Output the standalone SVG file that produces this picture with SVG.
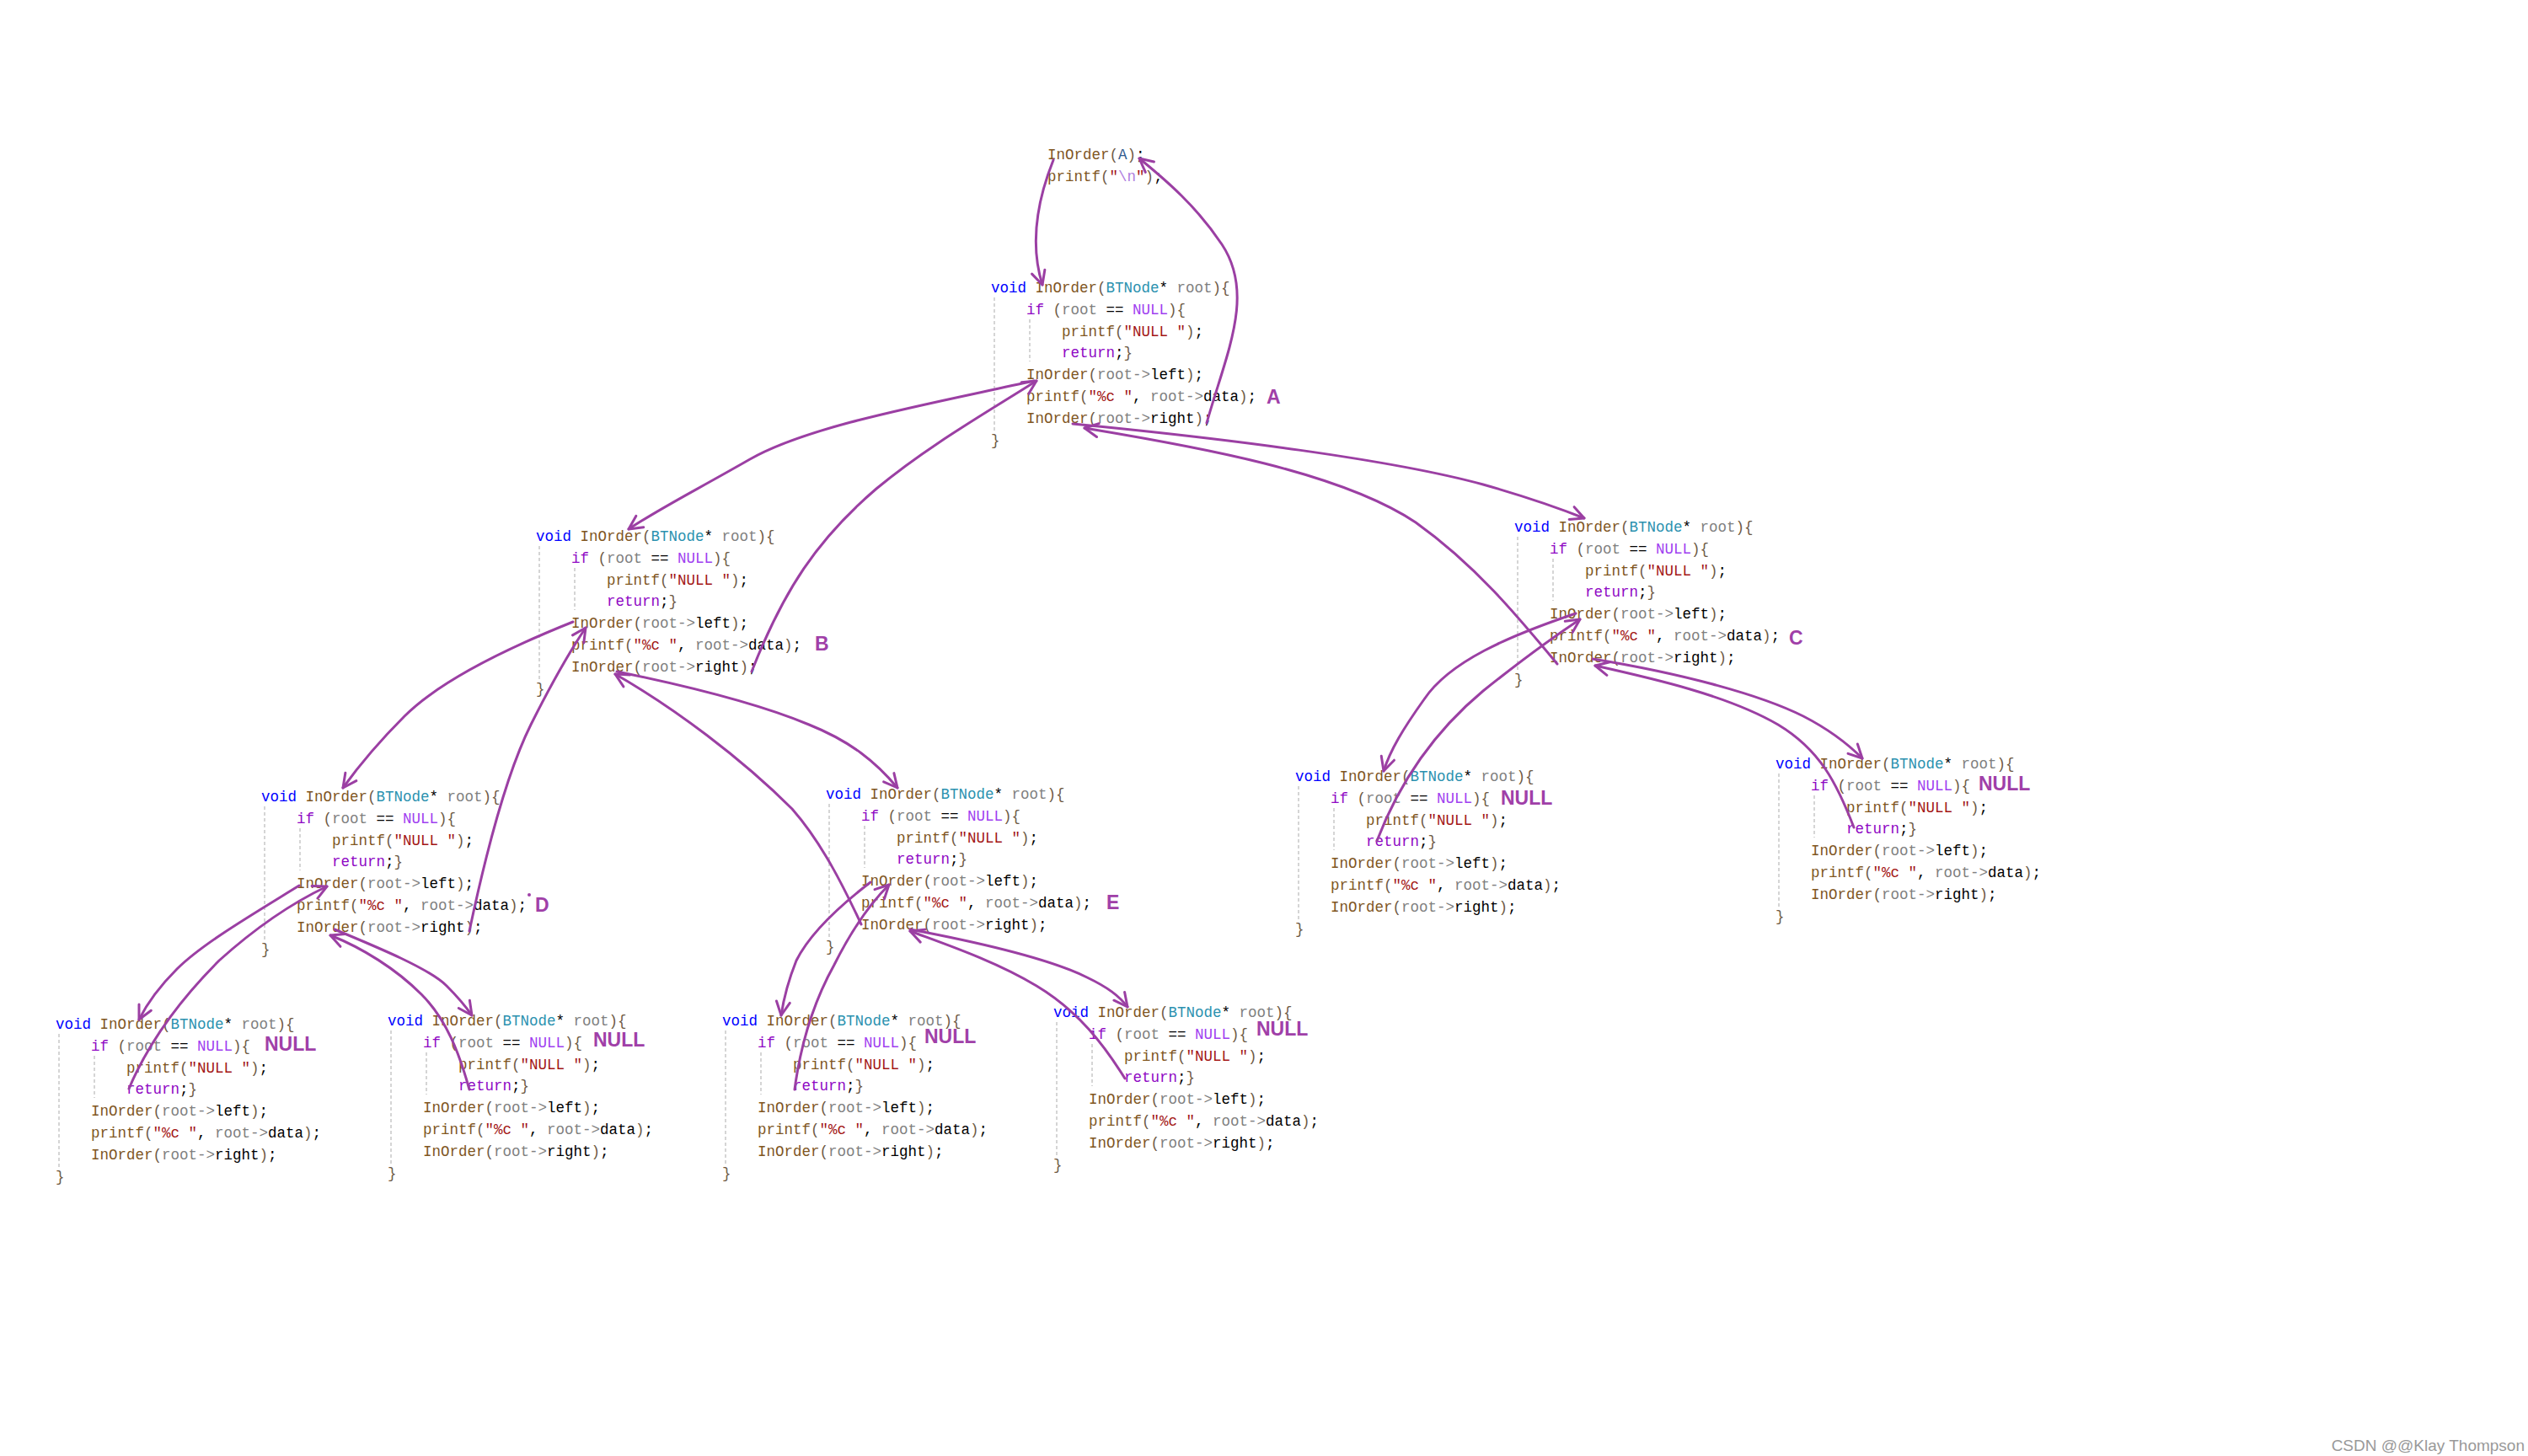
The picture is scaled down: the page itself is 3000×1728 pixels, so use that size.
<svg xmlns="http://www.w3.org/2000/svg" width="3000" height="1728" viewBox="0 0 3000 1728">
<style>
.c{font-family:"Liberation Mono","DejaVu Sans Mono",monospace;font-size:17.5px;fill:#000}
.k{fill:#0000ff}.f{fill:#80561f}.p{fill:#6e5a45}.t{fill:#2b91af}.v{fill:#808080}
.cf{fill:#8f08c4}.m{fill:#a040f0}.s{fill:#a31515}.e{fill:#b080e0}.a{fill:#2f5a90}
.g{stroke:#c8c8c8;stroke-width:1.5;stroke-dasharray:4 3;fill:none}
.lbl{font-family:"Liberation Sans",Arial,sans-serif;font-weight:bold;font-size:23px;fill:#a040a8}
.arr{fill:none;stroke:#9b3fa3;stroke-width:3;stroke-linecap:round;marker-end:url(#ah)}
.wm{font-family:"Liberation Sans",Arial,sans-serif;font-size:19px;fill:#999}
</style>
<defs>
<marker id="ah" markerUnits="userSpaceOnUse" viewBox="0 0 20 20" markerWidth="20" markerHeight="20" refX="18" refY="10" orient="auto">
<path d="M2,2 L18,10 L2,18" fill="none" stroke="#9b3fa3" stroke-width="3" stroke-linecap="round" stroke-linejoin="round"/>
</marker>
</defs>
<rect width="3000" height="1728" fill="#fff"/>

<g id="call">
<text class="c" x="1243" y="189"><tspan class="f">InOrder</tspan><tspan class="p">(</tspan><tspan class="a">A</tspan><tspan class="p">)</tspan>;</text>
<text class="c" x="1243" y="215"><tspan class="f">printf</tspan><tspan class="p">(</tspan><tspan class="s">"</tspan><tspan class="e">\n</tspan><tspan class="s">"</tspan><tspan class="p">)</tspan>;</text>
</g>

<g id="nodeA">
<g transform="translate(1176,347)">
<line class="g" x1="4" y1="6" x2="4" y2="165"/><line class="g" x1="46" y1="32" x2="46" y2="82"/>
<text class="c" x="0" y="0"><tspan class="k">void</tspan> <tspan class="f">InOrder</tspan><tspan class="p">(</tspan><tspan class="t">BTNode</tspan>* <tspan class="v">root</tspan><tspan class="p">){</tspan></text>
<text class="c" x="42" y="25.8"><tspan class="cf">if</tspan> <tspan class="p">(</tspan><tspan class="v">root</tspan> == <tspan class="m">NULL</tspan><tspan class="p">){</tspan></text>
<text class="c" x="84" y="51.6"><tspan class="f">printf</tspan><tspan class="p">(</tspan><tspan class="s">"NULL "</tspan><tspan class="p">)</tspan>;</text>
<text class="c" x="84" y="77.4"><tspan class="cf">return</tspan>;<tspan class="p">}</tspan></text>
<text class="c" x="42" y="103.2"><tspan class="f">InOrder</tspan><tspan class="p">(</tspan><tspan class="v">root-&gt;</tspan>left<tspan class="p">)</tspan>;</text>
<text class="c" x="42" y="129"><tspan class="f">printf</tspan><tspan class="p">(</tspan><tspan class="s">"%c "</tspan>, <tspan class="v">root-&gt;</tspan>data<tspan class="p">)</tspan>;</text>
<text class="c" x="42" y="154.8"><tspan class="f">InOrder</tspan><tspan class="p">(</tspan><tspan class="v">root-&gt;</tspan>right<tspan class="p">)</tspan>;</text>
<text class="c" x="0" y="180.6"><tspan class="p">}</tspan></text>
</g>
<text class="lbl" x="1503" y="479">A</text>
</g>

<g id="nodeB">
<g transform="translate(636,642)">
<line class="g" x1="4" y1="6" x2="4" y2="165"/><line class="g" x1="46" y1="32" x2="46" y2="82"/>
<text class="c" x="0" y="0"><tspan class="k">void</tspan> <tspan class="f">InOrder</tspan><tspan class="p">(</tspan><tspan class="t">BTNode</tspan>* <tspan class="v">root</tspan><tspan class="p">){</tspan></text>
<text class="c" x="42" y="25.8"><tspan class="cf">if</tspan> <tspan class="p">(</tspan><tspan class="v">root</tspan> == <tspan class="m">NULL</tspan><tspan class="p">){</tspan></text>
<text class="c" x="84" y="51.6"><tspan class="f">printf</tspan><tspan class="p">(</tspan><tspan class="s">"NULL "</tspan><tspan class="p">)</tspan>;</text>
<text class="c" x="84" y="77.4"><tspan class="cf">return</tspan>;<tspan class="p">}</tspan></text>
<text class="c" x="42" y="103.2"><tspan class="f">InOrder</tspan><tspan class="p">(</tspan><tspan class="v">root-&gt;</tspan>left<tspan class="p">)</tspan>;</text>
<text class="c" x="42" y="129"><tspan class="f">printf</tspan><tspan class="p">(</tspan><tspan class="s">"%c "</tspan>, <tspan class="v">root-&gt;</tspan>data<tspan class="p">)</tspan>;</text>
<text class="c" x="42" y="154.8"><tspan class="f">InOrder</tspan><tspan class="p">(</tspan><tspan class="v">root-&gt;</tspan>right<tspan class="p">)</tspan>;</text>
<text class="c" x="0" y="180.6"><tspan class="p">}</tspan></text>
</g>
<text class="lbl" x="967" y="772">B</text>
</g>

<g id="nodeC">
<g transform="translate(1797,631)">
<line class="g" x1="4" y1="6" x2="4" y2="165"/><line class="g" x1="46" y1="32" x2="46" y2="82"/>
<text class="c" x="0" y="0"><tspan class="k">void</tspan> <tspan class="f">InOrder</tspan><tspan class="p">(</tspan><tspan class="t">BTNode</tspan>* <tspan class="v">root</tspan><tspan class="p">){</tspan></text>
<text class="c" x="42" y="25.8"><tspan class="cf">if</tspan> <tspan class="p">(</tspan><tspan class="v">root</tspan> == <tspan class="m">NULL</tspan><tspan class="p">){</tspan></text>
<text class="c" x="84" y="51.6"><tspan class="f">printf</tspan><tspan class="p">(</tspan><tspan class="s">"NULL "</tspan><tspan class="p">)</tspan>;</text>
<text class="c" x="84" y="77.4"><tspan class="cf">return</tspan>;<tspan class="p">}</tspan></text>
<text class="c" x="42" y="103.2"><tspan class="f">InOrder</tspan><tspan class="p">(</tspan><tspan class="v">root-&gt;</tspan>left<tspan class="p">)</tspan>;</text>
<text class="c" x="42" y="129"><tspan class="f">printf</tspan><tspan class="p">(</tspan><tspan class="s">"%c "</tspan>, <tspan class="v">root-&gt;</tspan>data<tspan class="p">)</tspan>;</text>
<text class="c" x="42" y="154.8"><tspan class="f">InOrder</tspan><tspan class="p">(</tspan><tspan class="v">root-&gt;</tspan>right<tspan class="p">)</tspan>;</text>
<text class="c" x="0" y="180.6"><tspan class="p">}</tspan></text>
</g>
<text class="lbl" x="2123" y="765">C</text>
</g>

<g id="nodeD">
<g transform="translate(310,951)">
<line class="g" x1="4" y1="6" x2="4" y2="165"/><line class="g" x1="46" y1="32" x2="46" y2="82"/>
<text class="c" x="0" y="0"><tspan class="k">void</tspan> <tspan class="f">InOrder</tspan><tspan class="p">(</tspan><tspan class="t">BTNode</tspan>* <tspan class="v">root</tspan><tspan class="p">){</tspan></text>
<text class="c" x="42" y="25.8"><tspan class="cf">if</tspan> <tspan class="p">(</tspan><tspan class="v">root</tspan> == <tspan class="m">NULL</tspan><tspan class="p">){</tspan></text>
<text class="c" x="84" y="51.6"><tspan class="f">printf</tspan><tspan class="p">(</tspan><tspan class="s">"NULL "</tspan><tspan class="p">)</tspan>;</text>
<text class="c" x="84" y="77.4"><tspan class="cf">return</tspan>;<tspan class="p">}</tspan></text>
<text class="c" x="42" y="103.2"><tspan class="f">InOrder</tspan><tspan class="p">(</tspan><tspan class="v">root-&gt;</tspan>left<tspan class="p">)</tspan>;</text>
<text class="c" x="42" y="129"><tspan class="f">printf</tspan><tspan class="p">(</tspan><tspan class="s">"%c "</tspan>, <tspan class="v">root-&gt;</tspan>data<tspan class="p">)</tspan>;</text>
<text class="c" x="42" y="154.8"><tspan class="f">InOrder</tspan><tspan class="p">(</tspan><tspan class="v">root-&gt;</tspan>right<tspan class="p">)</tspan>;</text>
<text class="c" x="0" y="180.6"><tspan class="p">}</tspan></text>
</g>
<circle cx="628" cy="1062" r="2" fill="#a040a8"/>
<text class="lbl" x="635" y="1082">D</text>
</g>

<g id="nodeE">
<g transform="translate(980,948)">
<line class="g" x1="4" y1="6" x2="4" y2="165"/><line class="g" x1="46" y1="32" x2="46" y2="82"/>
<text class="c" x="0" y="0"><tspan class="k">void</tspan> <tspan class="f">InOrder</tspan><tspan class="p">(</tspan><tspan class="t">BTNode</tspan>* <tspan class="v">root</tspan><tspan class="p">){</tspan></text>
<text class="c" x="42" y="25.8"><tspan class="cf">if</tspan> <tspan class="p">(</tspan><tspan class="v">root</tspan> == <tspan class="m">NULL</tspan><tspan class="p">){</tspan></text>
<text class="c" x="84" y="51.6"><tspan class="f">printf</tspan><tspan class="p">(</tspan><tspan class="s">"NULL "</tspan><tspan class="p">)</tspan>;</text>
<text class="c" x="84" y="77.4"><tspan class="cf">return</tspan>;<tspan class="p">}</tspan></text>
<text class="c" x="42" y="103.2"><tspan class="f">InOrder</tspan><tspan class="p">(</tspan><tspan class="v">root-&gt;</tspan>left<tspan class="p">)</tspan>;</text>
<text class="c" x="42" y="129"><tspan class="f">printf</tspan><tspan class="p">(</tspan><tspan class="s">"%c "</tspan>, <tspan class="v">root-&gt;</tspan>data<tspan class="p">)</tspan>;</text>
<text class="c" x="42" y="154.8"><tspan class="f">InOrder</tspan><tspan class="p">(</tspan><tspan class="v">root-&gt;</tspan>right<tspan class="p">)</tspan>;</text>
<text class="c" x="0" y="180.6"><tspan class="p">}</tspan></text>
</g>
<text class="lbl" x="1313" y="1079">E</text>
</g>

<g id="nullCL">
<g transform="translate(1537,927)">
<line class="g" x1="4" y1="6" x2="4" y2="165"/><line class="g" x1="46" y1="32" x2="46" y2="82"/>
<text class="c" x="0" y="0"><tspan class="k">void</tspan> <tspan class="f">InOrder</tspan><tspan class="p">(</tspan><tspan class="t">BTNode</tspan>* <tspan class="v">root</tspan><tspan class="p">){</tspan></text>
<text class="c" x="42" y="25.8"><tspan class="cf">if</tspan> <tspan class="p">(</tspan><tspan class="v">root</tspan> == <tspan class="m">NULL</tspan><tspan class="p">){</tspan></text>
<text class="c" x="84" y="51.6"><tspan class="f">printf</tspan><tspan class="p">(</tspan><tspan class="s">"NULL "</tspan><tspan class="p">)</tspan>;</text>
<text class="c" x="84" y="77.4"><tspan class="cf">return</tspan>;<tspan class="p">}</tspan></text>
<text class="c" x="42" y="103.2"><tspan class="f">InOrder</tspan><tspan class="p">(</tspan><tspan class="v">root-&gt;</tspan>left<tspan class="p">)</tspan>;</text>
<text class="c" x="42" y="129"><tspan class="f">printf</tspan><tspan class="p">(</tspan><tspan class="s">"%c "</tspan>, <tspan class="v">root-&gt;</tspan>data<tspan class="p">)</tspan>;</text>
<text class="c" x="42" y="154.8"><tspan class="f">InOrder</tspan><tspan class="p">(</tspan><tspan class="v">root-&gt;</tspan>right<tspan class="p">)</tspan>;</text>
<text class="c" x="0" y="180.6"><tspan class="p">}</tspan></text>
</g>
<text class="lbl" x="1781" y="955">NULL</text>
</g>

<g id="nullCR">
<g transform="translate(2107,912)">
<line class="g" x1="4" y1="6" x2="4" y2="165"/><line class="g" x1="46" y1="32" x2="46" y2="82"/>
<text class="c" x="0" y="0"><tspan class="k">void</tspan> <tspan class="f">InOrder</tspan><tspan class="p">(</tspan><tspan class="t">BTNode</tspan>* <tspan class="v">root</tspan><tspan class="p">){</tspan></text>
<text class="c" x="42" y="25.8"><tspan class="cf">if</tspan> <tspan class="p">(</tspan><tspan class="v">root</tspan> == <tspan class="m">NULL</tspan><tspan class="p">){</tspan></text>
<text class="c" x="84" y="51.6"><tspan class="f">printf</tspan><tspan class="p">(</tspan><tspan class="s">"NULL "</tspan><tspan class="p">)</tspan>;</text>
<text class="c" x="84" y="77.4"><tspan class="cf">return</tspan>;<tspan class="p">}</tspan></text>
<text class="c" x="42" y="103.2"><tspan class="f">InOrder</tspan><tspan class="p">(</tspan><tspan class="v">root-&gt;</tspan>left<tspan class="p">)</tspan>;</text>
<text class="c" x="42" y="129"><tspan class="f">printf</tspan><tspan class="p">(</tspan><tspan class="s">"%c "</tspan>, <tspan class="v">root-&gt;</tspan>data<tspan class="p">)</tspan>;</text>
<text class="c" x="42" y="154.8"><tspan class="f">InOrder</tspan><tspan class="p">(</tspan><tspan class="v">root-&gt;</tspan>right<tspan class="p">)</tspan>;</text>
<text class="c" x="0" y="180.6"><tspan class="p">}</tspan></text>
</g>
<text class="lbl" x="2348" y="938">NULL</text>
</g>

<g id="nullL1">
<g transform="translate(66,1221)">
<line class="g" x1="4" y1="6" x2="4" y2="165"/><line class="g" x1="46" y1="32" x2="46" y2="82"/>
<text class="c" x="0" y="0"><tspan class="k">void</tspan> <tspan class="f">InOrder</tspan><tspan class="p">(</tspan><tspan class="t">BTNode</tspan>* <tspan class="v">root</tspan><tspan class="p">){</tspan></text>
<text class="c" x="42" y="25.8"><tspan class="cf">if</tspan> <tspan class="p">(</tspan><tspan class="v">root</tspan> == <tspan class="m">NULL</tspan><tspan class="p">){</tspan></text>
<text class="c" x="84" y="51.6"><tspan class="f">printf</tspan><tspan class="p">(</tspan><tspan class="s">"NULL "</tspan><tspan class="p">)</tspan>;</text>
<text class="c" x="84" y="77.4"><tspan class="cf">return</tspan>;<tspan class="p">}</tspan></text>
<text class="c" x="42" y="103.2"><tspan class="f">InOrder</tspan><tspan class="p">(</tspan><tspan class="v">root-&gt;</tspan>left<tspan class="p">)</tspan>;</text>
<text class="c" x="42" y="129"><tspan class="f">printf</tspan><tspan class="p">(</tspan><tspan class="s">"%c "</tspan>, <tspan class="v">root-&gt;</tspan>data<tspan class="p">)</tspan>;</text>
<text class="c" x="42" y="154.8"><tspan class="f">InOrder</tspan><tspan class="p">(</tspan><tspan class="v">root-&gt;</tspan>right<tspan class="p">)</tspan>;</text>
<text class="c" x="0" y="180.6"><tspan class="p">}</tspan></text>
</g>
<text class="lbl" x="314" y="1247">NULL</text>
</g>

<g id="nullL2">
<g transform="translate(460,1217)">
<line class="g" x1="4" y1="6" x2="4" y2="165"/><line class="g" x1="46" y1="32" x2="46" y2="82"/>
<text class="c" x="0" y="0"><tspan class="k">void</tspan> <tspan class="f">InOrder</tspan><tspan class="p">(</tspan><tspan class="t">BTNode</tspan>* <tspan class="v">root</tspan><tspan class="p">){</tspan></text>
<text class="c" x="42" y="25.8"><tspan class="cf">if</tspan> <tspan class="p">(</tspan><tspan class="v">root</tspan> == <tspan class="m">NULL</tspan><tspan class="p">){</tspan></text>
<text class="c" x="84" y="51.6"><tspan class="f">printf</tspan><tspan class="p">(</tspan><tspan class="s">"NULL "</tspan><tspan class="p">)</tspan>;</text>
<text class="c" x="84" y="77.4"><tspan class="cf">return</tspan>;<tspan class="p">}</tspan></text>
<text class="c" x="42" y="103.2"><tspan class="f">InOrder</tspan><tspan class="p">(</tspan><tspan class="v">root-&gt;</tspan>left<tspan class="p">)</tspan>;</text>
<text class="c" x="42" y="129"><tspan class="f">printf</tspan><tspan class="p">(</tspan><tspan class="s">"%c "</tspan>, <tspan class="v">root-&gt;</tspan>data<tspan class="p">)</tspan>;</text>
<text class="c" x="42" y="154.8"><tspan class="f">InOrder</tspan><tspan class="p">(</tspan><tspan class="v">root-&gt;</tspan>right<tspan class="p">)</tspan>;</text>
<text class="c" x="0" y="180.6"><tspan class="p">}</tspan></text>
</g>
<text class="lbl" x="704" y="1242">NULL</text>
</g>

<g id="nullL3">
<g transform="translate(857,1217)">
<line class="g" x1="4" y1="6" x2="4" y2="165"/><line class="g" x1="46" y1="32" x2="46" y2="82"/>
<text class="c" x="0" y="0"><tspan class="k">void</tspan> <tspan class="f">InOrder</tspan><tspan class="p">(</tspan><tspan class="t">BTNode</tspan>* <tspan class="v">root</tspan><tspan class="p">){</tspan></text>
<text class="c" x="42" y="25.8"><tspan class="cf">if</tspan> <tspan class="p">(</tspan><tspan class="v">root</tspan> == <tspan class="m">NULL</tspan><tspan class="p">){</tspan></text>
<text class="c" x="84" y="51.6"><tspan class="f">printf</tspan><tspan class="p">(</tspan><tspan class="s">"NULL "</tspan><tspan class="p">)</tspan>;</text>
<text class="c" x="84" y="77.4"><tspan class="cf">return</tspan>;<tspan class="p">}</tspan></text>
<text class="c" x="42" y="103.2"><tspan class="f">InOrder</tspan><tspan class="p">(</tspan><tspan class="v">root-&gt;</tspan>left<tspan class="p">)</tspan>;</text>
<text class="c" x="42" y="129"><tspan class="f">printf</tspan><tspan class="p">(</tspan><tspan class="s">"%c "</tspan>, <tspan class="v">root-&gt;</tspan>data<tspan class="p">)</tspan>;</text>
<text class="c" x="42" y="154.8"><tspan class="f">InOrder</tspan><tspan class="p">(</tspan><tspan class="v">root-&gt;</tspan>right<tspan class="p">)</tspan>;</text>
<text class="c" x="0" y="180.6"><tspan class="p">}</tspan></text>
</g>
<text class="lbl" x="1097" y="1238">NULL</text>
</g>

<g id="nullL4">
<g transform="translate(1250,1207)">
<line class="g" x1="4" y1="6" x2="4" y2="165"/><line class="g" x1="46" y1="32" x2="46" y2="82"/>
<text class="c" x="0" y="0"><tspan class="k">void</tspan> <tspan class="f">InOrder</tspan><tspan class="p">(</tspan><tspan class="t">BTNode</tspan>* <tspan class="v">root</tspan><tspan class="p">){</tspan></text>
<text class="c" x="42" y="25.8"><tspan class="cf">if</tspan> <tspan class="p">(</tspan><tspan class="v">root</tspan> == <tspan class="m">NULL</tspan><tspan class="p">){</tspan></text>
<text class="c" x="84" y="51.6"><tspan class="f">printf</tspan><tspan class="p">(</tspan><tspan class="s">"NULL "</tspan><tspan class="p">)</tspan>;</text>
<text class="c" x="84" y="77.4"><tspan class="cf">return</tspan>;<tspan class="p">}</tspan></text>
<text class="c" x="42" y="103.2"><tspan class="f">InOrder</tspan><tspan class="p">(</tspan><tspan class="v">root-&gt;</tspan>left<tspan class="p">)</tspan>;</text>
<text class="c" x="42" y="129"><tspan class="f">printf</tspan><tspan class="p">(</tspan><tspan class="s">"%c "</tspan>, <tspan class="v">root-&gt;</tspan>data<tspan class="p">)</tspan>;</text>
<text class="c" x="42" y="154.8"><tspan class="f">InOrder</tspan><tspan class="p">(</tspan><tspan class="v">root-&gt;</tspan>right<tspan class="p">)</tspan>;</text>
<text class="c" x="0" y="180.6"><tspan class="p">}</tspan></text>
</g>
<text class="lbl" x="1491" y="1229">NULL</text>
</g>

<g id="connectors">
<path class="arr" d="M1250,190 C1230,240 1222,290 1237,338"/>
<path class="arr" d="M1432,502 C1455,420 1490,350 1450,290 C1420,245 1385,215 1352,188"/>
<path class="arr" d="M1227,452 C1100,480 960,505 890,545 C820,585 780,605 746,628"/>
<path class="arr" d="M892,797 C930,700 970,640 1040,580 C1100,530 1170,490 1230,452"/>
<path class="arr" d="M680,738 C600,770 520,810 480,850 C445,885 425,910 407,935"/>
<path class="arr" d="M557,1105 C575,1020 600,920 630,860 C655,810 675,775 695,745"/>
<path class="arr" d="M732,797 C820,815 900,835 960,860 C1010,880 1040,905 1065,935"/>
<path class="arr" d="M1022,1097 C1000,1050 975,1000 940,960 C880,900 800,840 730,800"/>
<path class="arr" d="M1273,503 C1450,520 1650,545 1760,575 C1820,592 1855,605 1880,615"/>
<path class="arr" d="M1848,788 C1800,730 1750,670 1680,620 C1590,560 1420,530 1287,508"/>
<path class="arr" d="M1870,728 C1790,755 1720,785 1690,830 C1665,865 1650,890 1642,915"/>
<path class="arr" d="M1634,998 C1660,930 1700,870 1760,820 C1810,780 1845,755 1875,735"/>
<path class="arr" d="M1890,782 C2000,800 2090,825 2140,850 C2175,868 2195,885 2210,900"/>
<path class="arr" d="M2200,982 C2180,930 2160,890 2110,860 C2050,825 1960,805 1893,790"/>
<path class="arr" d="M355,1051 C300,1085 240,1120 210,1150 C190,1170 175,1190 165,1210"/>
<path class="arr" d="M153,1292 C175,1240 210,1190 260,1140 C310,1095 350,1070 388,1052"/>
<path class="arr" d="M397,1103 C450,1125 510,1150 530,1170 C545,1185 553,1195 560,1205"/>
<path class="arr" d="M557,1293 C545,1250 530,1210 500,1180 C470,1150 430,1125 392,1110"/>
<path class="arr" d="M1033,1047 C990,1080 960,1110 945,1140 C935,1165 930,1185 927,1205"/>
<path class="arr" d="M943,1293 C950,1240 965,1190 990,1145 C1010,1105 1030,1075 1055,1050"/>
<path class="arr" d="M1080,1103 C1170,1120 1250,1140 1290,1160 C1315,1172 1328,1182 1338,1195"/>
<path class="arr" d="M1335,1280 C1310,1240 1280,1200 1230,1170 C1180,1140 1120,1120 1080,1105"/>
</g>

<text class="wm" x="2996" y="1722" text-anchor="end">CSDN @@Klay Thompson</text>
</svg>
